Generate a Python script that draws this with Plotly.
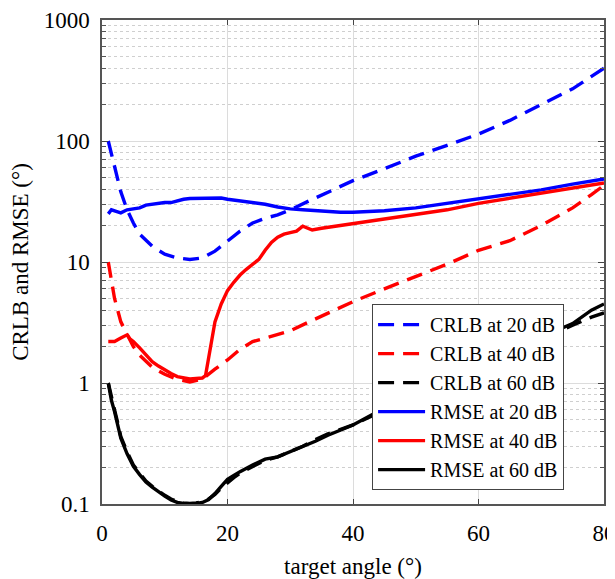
import plotly.graph_objects as go

# ---------------- data ----------------
crlb20_x = [1, 2, 3, 4, 5, 6, 8, 10, 12, 14, 16, 18, 20, 22, 24, 26, 28, 30, 33, 36, 40, 45, 50, 55, 60, 65, 70, 75, 80]
crlb20_y = [100, 60, 38, 27, 21, 17, 13.5, 11.6, 10.8, 10.5, 10.8, 12.3, 14.8, 18, 21, 23, 24.5, 27, 32, 38, 47, 59, 75, 92, 114, 148, 200, 270, 400]

crlb40_x = [1, 2, 3, 4, 5, 6, 8, 10, 12, 14, 16, 18, 20, 22, 24, 26, 28, 30, 33, 36, 40, 45, 50, 55, 60, 65, 70, 75, 78, 80]
crlb40_y = [10, 5, 3.2, 2.5, 2.0, 1.7, 1.35, 1.18, 1.07, 1.02, 1.08, 1.3, 1.55, 1.9, 2.2, 2.35, 2.5, 2.7, 3.2, 3.8, 4.7, 6, 7.6, 9.6, 12.5, 15, 20, 28, 36, 43]

crlb60_x = [1, 1.5, 2, 2.5, 3, 4, 5, 6, 7, 8, 9, 10, 11, 12, 13, 14, 15, 16, 17, 18, 19, 20, 21, 22, 24, 26, 28, 30, 32, 34, 36, 40, 45, 50, 55, 60, 65, 70, 75, 78, 80]
crlb60_y = [1.0, 0.75, 0.6, 0.47, 0.36, 0.27, 0.21, 0.18, 0.155, 0.14, 0.128, 0.118, 0.11, 0.105, 0.102, 0.101, 0.102, 0.104, 0.11, 0.12, 0.135, 0.15, 0.165, 0.18, 0.205, 0.23, 0.245, 0.27, 0.3, 0.34, 0.38, 0.45, 0.6, 0.8, 1.05, 1.35, 1.75, 2.3, 3.0, 3.5, 3.8]

rmse20_x = [1, 1.5, 2.5, 3, 4, 5, 6, 7, 8, 9, 10, 11, 12, 13, 14, 16, 18, 19, 20, 22, 24, 26, 28, 30, 32, 34, 36, 38, 40, 45, 50, 55, 60, 65, 70, 75, 80]
rmse20_y = [25, 27, 26, 25.5, 27, 27.5, 28, 29.5, 30, 30.5, 31, 31, 32, 33, 33.5, 33.5, 33.5, 33.8, 33, 32, 31, 30, 28.5, 27.5, 27, 26.5, 26, 25.8, 25.8, 26.5, 28, 30.5, 33, 36, 39.5, 44, 48.5]

rmse40_x = [1, 2, 3, 4, 4.5, 5, 6, 7, 8, 9, 10, 11, 12, 13, 14, 15, 16, 16.5, 17, 17.5, 18, 19, 20, 21, 22, 23, 24, 25, 26, 27, 28, 29, 30, 31, 32, 33.5, 35, 38, 40, 45, 50, 55, 60, 65, 70, 75, 80]
rmse40_y = [2.2, 2.2, 2.35, 2.5, 2.3, 2.2, 1.95, 1.7, 1.5, 1.38, 1.28, 1.2, 1.13, 1.1, 1.08, 1.09, 1.1, 1.15, 1.6, 2.3, 3.2, 4.5, 5.8, 6.8, 7.8, 8.7, 9.6, 10.5, 12.5, 14.5, 16, 17, 17.5, 18, 19.8, 18.4, 19, 20, 20.6, 22.5, 24.5, 27, 30.5, 33.5, 37, 41, 45]

rmse60_x = [1, 1.5, 2, 2.5, 3, 4, 5, 6, 7, 8, 9, 10, 11, 12, 13, 14, 15, 16, 17, 18, 19, 20, 21, 22, 24, 26, 28, 30, 32, 34, 36, 40, 45, 50, 55, 60, 65, 70, 75, 78, 80]
rmse60_y = [1.0, 0.72, 0.58, 0.45, 0.35, 0.26, 0.205, 0.175, 0.152, 0.138, 0.126, 0.116, 0.108, 0.103, 0.101, 0.1, 0.101, 0.103, 0.109, 0.122, 0.14, 0.16, 0.172, 0.185, 0.21, 0.235, 0.245, 0.27, 0.3, 0.33, 0.37, 0.45, 0.62, 0.82, 1.08, 1.4, 1.85, 2.4, 3.1, 4.0, 4.5]

x_ticks = [0, 20, 40, 60, 80]

FONT = "Liberation Serif"
DASH = "16px,9px"

fig = go.Figure()
series = [
    ("CRLB at 20 dB", crlb20_x, crlb20_y, "#0000ff", DASH),
    ("CRLB at 40 dB", crlb40_x, crlb40_y, "#ff0000", DASH),
    ("CRLB at 60 dB", crlb60_x, crlb60_y, "#000000", DASH),
    ("RMSE at 20 dB", rmse20_x, rmse20_y, "#0000ff", "solid"),
    ("RMSE at 40 dB", rmse40_x, rmse40_y, "#ff0000", "solid"),
    ("RMSE at 60 dB", rmse60_x, rmse60_y, "#000000", "solid"),
]
for name, xs, ys, col, dash in series:
    fig.add_trace(go.Scatter(x=xs, y=ys, mode="lines", name=name,
                             line=dict(color=col, width=3.4, dash=dash)))

# the page body adds an 8px offset; the figure is sized to fit the window
fig.update_layout(
    width=607, height=571,
    margin=dict(l=94, r=11, t=12, b=75),
    paper_bgcolor="white", plot_bgcolor="white",
    font=dict(family=FONT, size=23, color="#000000"),
    showlegend=True,
    legend=dict(
        x=0.538, y=0.413, xanchor="left", yanchor="top",
        bgcolor="white", bordercolor="#444444", borderwidth=1,
        font=dict(family=FONT, size=20, color="#000000"),
        tracegroupgap=0, itemwidth=47,
    ),
)

fig.update_xaxes(
    range=[0, 80], tickvals=x_ticks, ticks="inside", ticklen=5,
    tickcolor="#444444", showline=True, linecolor="#555555", linewidth=1.5,
    mirror="ticks", showgrid=True, gridcolor="#dcdcdc", gridwidth=1,
    zeroline=False, automargin=False, ticklabelstandoff=8,
    ticklabeloverflow="allow",
    title=dict(text="target angle (°)", font=dict(family=FONT, size=23), standoff=20),
    tickfont=dict(family=FONT, size=23),
)

fig.update_yaxes(
    type="log", range=[-1, 3], dtick=1, ticks="inside", ticklen=6,
    tickcolor="#444444", showline=True, linecolor="#555555", linewidth=1.5,
    mirror="ticks", showgrid=True, gridcolor="#dcdcdc", gridwidth=1,
    zeroline=False, exponentformat="none", automargin=False, ticklabelstandoff=6,
    ticklabeloverflow="allow",
    minor=dict(dtick="D1", ticks="inside", ticklen=4, tickcolor="#555555",
               showgrid=True, gridcolor="#cfcfcf", griddash="dot", gridwidth=1),
    title=dict(text="CRLB and RMSE (°)", font=dict(family=FONT, size=23), standoff=9),
    tickfont=dict(family=FONT, size=23),
)

fig.write_html("out.html")
